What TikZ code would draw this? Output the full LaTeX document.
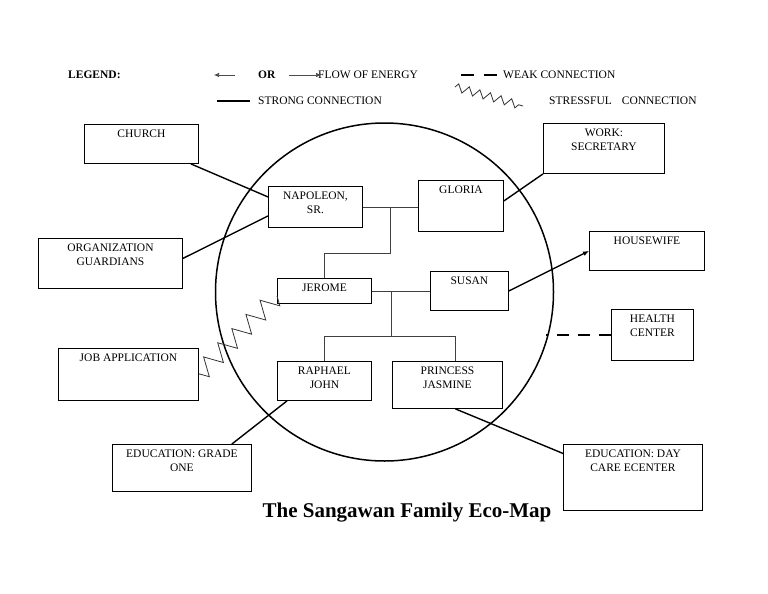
\documentclass[tikz,border=0pt]{standalone}
\usepackage{fontspec}
\setmainfont{Liberation Serif}
\usetikzlibrary{positioning,arrows.meta,calc,decorations.pathmorphing}

% box text: width, height, lines (text sits at the top of the box)
\newcommand{\boxlines}[3]{\parbox[c][#2][t]{#1}{\centering\vspace*{5pt}#3}}

\tikzset{
  ecobox/.style={draw, line width=0.9pt, inner sep=0pt, anchor=north west},
  keytext/.style={anchor=west, inner sep=0pt},
  tie/.style={draw=black!75, line width=0.8pt},
  strong/.style={line width=1.4pt},
  stressful/.style={draw=black!80, line width=0.8pt, decorate,
    decoration={zigzag, segment length=20pt, amplitude=9pt}}
}

\begin{document}
\begin{tikzpicture}[x=1pt, y=-1pt,
  every node/.style={font=\fontsize{11.5}{14}\selectfont}
]
\useasboundingbox (0,0) rectangle (768,594);

% legend
\node[keytext] (legend) at (68,75) {\bfseries LEGEND:};
\node[keytext] (orword) at (258,75) {\bfseries OR};
\node[keytext] (flowtxt) at (318,75) {FLOW OF ENERGY};
\node[keytext] (weaktxt) at (503,75) {WEAK CONNECTION};
\node[keytext] (strongtxt) at (258,101) {STRONG CONNECTION};
\node[keytext] (stresstxt) at (549,101) {STRESSFUL\hspace{10pt}CONNECTION};

\draw[black!70, line width=0.7pt, -{Latex[length=5pt,width=4.5pt]}] ([xshift=-23pt]orword.west) -- ([xshift=-44pt]orword.west);
\draw[black!70, line width=0.7pt, -{Latex[length=5pt,width=4.5pt]}] ([xshift=-29pt]flowtxt.west) -- ([xshift=3pt]flowtxt.west);
\draw[line width=1.6pt, dash pattern=on 13pt off 10pt] ([xshift=-42pt]weaktxt.west) -- ([xshift=-6pt]weaktxt.west);
\draw[line width=2pt] ([xshift=-41pt]strongtxt.west) -- ([xshift=-8pt]strongtxt.west);
\draw[black!80, line width=0.8pt, decorate, decoration={zigzag, segment length=11pt, amplitude=4pt}]
  ([xshift=-94pt, yshift=14pt]stresstxt.west) -- ([xshift=-26pt, yshift=-5pt]stresstxt.west);

% family circle
\node (family) [circle, draw, line width=1.5pt, minimum size=338pt] at (384.5,292) {};

% household
\node[ecobox] (napoleon) at (268,186) {\boxlines{94pt}{41pt}{NAPOLEON,\\SR.}};
\node[ecobox] (gloria) at (418,180) {\boxlines{85pt}{51pt}{GLORIA}};
\node[ecobox] (jerome) at (277,278) {\boxlines{94pt}{25pt}{JEROME}};
\node[ecobox] (susan) at (430,271) {\boxlines{78pt}{39pt}{SUSAN}};
\node[ecobox] (raphael) at (277,361) {\boxlines{94pt}{39pt}{RAPHAEL\\JOHN}};
\node[ecobox] (princess) at (392,361) {\boxlines{110pt}{47pt}{PRINCESS\\JASMINE}};

% outside systems
\node[ecobox] (church) at (84,124) {\boxlines{114pt}{39pt}{CHURCH}};
\node[ecobox] (org) at (38,238) {\boxlines{144pt}{50pt}{ORGANIZATION\\GUARDIANS}};
\node[ecobox] (job) at (58,348) {\boxlines{140pt}{52pt}{JOB APPLICATION}};
\node[ecobox] (gradeone) at (112,444) {\boxlines{139pt}{47pt}{EDUCATION: GRADE\\ONE}};
\node[ecobox] (work) at (543,123) {\boxlines{121pt}{50pt}{WORK:\\SECRETARY}};
\node[ecobox] (housewife) at (589,231) {\boxlines{115pt}{39pt}{HOUSEWIFE}};
\node[ecobox] (health) at (611,309) {\boxlines{82pt}{51pt}{HEALTH\\CENTER}};
\node[ecobox] (daycare) at (563,444) {\boxlines{139pt}{66pt}{EDUCATION: DAY\\CARE ECENTER}};

% family ties
\draw[tie] (napoleon.east) -- (napoleon.east -| gloria.west);
\coordinate (couple1) at ($(napoleon.east)!0.5!(napoleon.east -| gloria.west)$);
\draw[tie] (couple1) -- ++(0,46) -| (jerome.north);
\draw[tie] (jerome.east) -- (susan.west);
\coordinate (couple2) at ($(jerome.east)!0.34!(susan.west)$);
\draw[tie] (couple2) -- ++(0,45) coordinate (kids);
\draw[tie] (raphael.north) |- (kids) -| ([xshift=8pt]princess.north);

% connections
\draw[strong] ([xshift=-8pt]church.south east) -- ([yshift=10pt]napoleon.west);
\draw[strong] ([yshift=5pt]org.east) -- ([yshift=-9pt]napoleon.west);
\draw[strong] ([yshift=5pt]gloria.east) -- (work.south west);
\draw[strong, -{Latex[length=6pt,width=5pt]}] (susan.east) -- (housewife.west);
\draw[strong, dash pattern=on 12pt off 9pt] (health.west) -- ++(-65,0);
\draw[strong] ([xshift=10pt]raphael.south west) -- ([xshift=-20pt]gradeone.north east);
\draw[strong] ([xshift=8pt]princess.south) -- ([yshift=24pt]daycare.west);
\draw[stressful] ([yshift=-5pt]jerome.west) -- (job.east);

% title
\node (title) at (407,513) {\fontsize{21}{25}\selectfont\bfseries The Sangawan Family Eco-Map};
\end{tikzpicture}
\end{document}
